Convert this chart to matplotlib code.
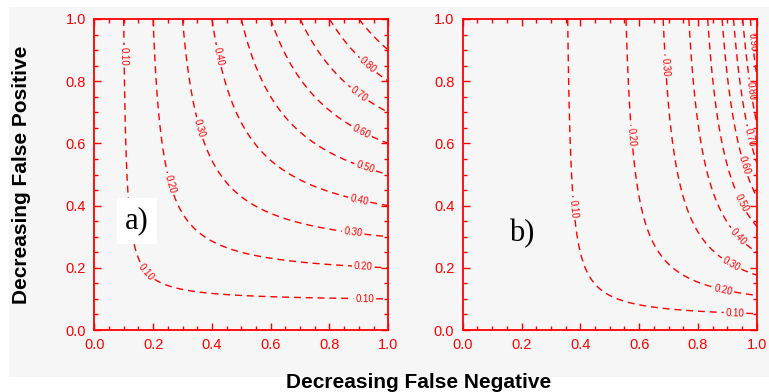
import numpy as np
import matplotlib
matplotlib.use("Agg")
from matplotlib import pyplot as plt
from matplotlib.patches import Rectangle

# score levels drawn in both panels
levels = [0.10, 0.20, 0.30, 0.40, 0.50, 0.60, 0.70, 0.80, 0.90]
# relative cost of a false negative / false positive in each panel
fn_weight = [1.0, 5.0]
fp_weight = [1.0, 0.5]
panel_tags = ["a)", "b)"]
tick_vals = [0.0, 0.2, 0.4, 0.6, 0.8, 1.0]
tick_labels = ["0.0", "0.2", "0.4", "0.6", "0.8", "1.0"]

# where the contour labels sit (data coords)
label_spots = [
    [(0.10, 0.88), (0.18, 0.19), (0.92, 0.10), (0.26, 0.47), (0.915, 0.20),
     (0.36, 0.65), (0.88, 0.31), (0.42, 0.88), (0.90, 0.415), (0.92, 0.52),
     (0.91, 0.64), (0.90, 0.756), (0.93, 0.85)],
    [(0.375, 0.39), (0.926, 0.055), (0.576, 0.62), (0.886, 0.13), (0.69, 0.846),
     (0.91, 0.206), (0.936, 0.30), (0.943, 0.408), (0.96, 0.53), (0.977, 0.62),
     (0.98, 0.77), (0.987, 0.926)],
]
tag_pos = [(0.145, 0.35), (0.20, 0.31)]

RED = "#ff0000"
BG = "#f6f6f6"

plt.rcParams["font.family"] = ["Liberation Sans", "DejaVu Sans"]
plt.rcParams["lines.dashed_pattern"] = [5, 3.5]

fig = plt.figure(figsize=(7.69, 3.92), dpi=100)
fig.patch.set_facecolor("white")
fig.patches.append(Rectangle((9 / 769, 15 / 392), 760 / 769, 370 / 392,
                             transform=fig.transFigure, facecolor=BG,
                             edgecolor="none", zorder=-10))

lefts = [94.3 / 769, 462.7 / 769]
x = np.linspace(0.004, 1.0, 500)
X, Y = np.meshgrid(x, x)

for i in range(2):
    ax = fig.add_axes([lefts[i], 62 / 392, 294 / 769, 311 / 392])
    ax.set_facecolor(BG)
    Z = 1.0 / (1.0 + fn_weight[i] * (1.0 / X - 1.0) + fp_weight[i] * (1.0 / Y - 1.0))
    cs = ax.contour(X, Y, Z, levels=levels, colors=RED, linewidths=1.0,
                    linestyles="dashed")
    ax.clabel(cs, fmt="%.2f", fontsize=7, inline=True, inline_spacing=2,
              manual=label_spots[i])

    ax.set_xlim(0, 1)
    ax.set_ylim(0, 1)
    ax.set_xticks(tick_vals)
    ax.set_xticklabels(tick_labels)
    ax.set_yticks(tick_vals)
    ax.set_yticklabels(tick_labels)
    ax.set_xticks(np.arange(0, 1.001, 0.05), minor=True)
    ax.set_yticks(np.arange(0, 1.001, 0.05), minor=True)
    ax.tick_params(which="both", direction="in", top=True, right=True,
                   color=RED, labelcolor=RED, width=1.0)
    ax.tick_params(which="major", length=5, labelsize=10.5, pad=6)
    ax.tick_params(which="minor", length=3)
    for s in ax.spines.values():
        s.set_color(RED)
        s.set_linewidth(1.3)

    box = dict(facecolor="white", edgecolor="none", pad=6) if i == 0 else None
    ax.text(tag_pos[i][0], tag_pos[i][1], panel_tags[i], fontsize=22,
            family="Liberation Serif", ha="center", va="center", bbox=box)

fig.text(0.0286, 0.553, "Decreasing False Positive", rotation=90,
         fontsize=15, fontweight="bold", ha="center", va="center")
fig.text(0.545, 0.025, "Decreasing False Negative",
         fontsize=15, fontweight="bold", ha="center", va="center")

fig.savefig("out.png", dpi=100)
